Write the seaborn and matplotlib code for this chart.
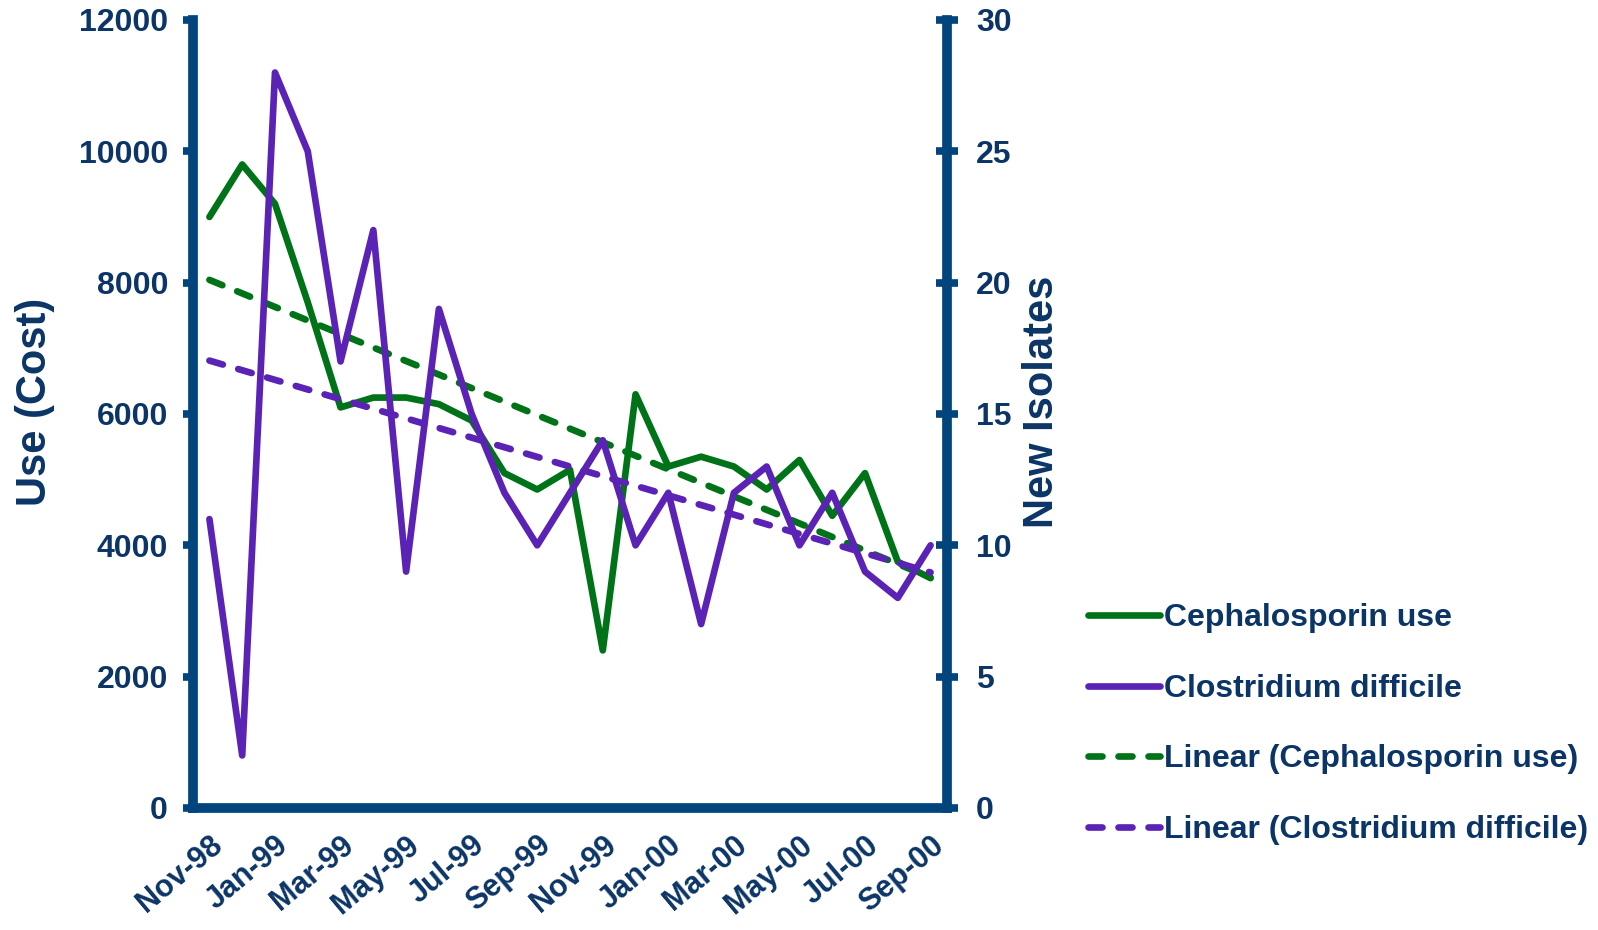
import numpy as np
import pandas as pd
import matplotlib
matplotlib.use('agg')
import matplotlib.pyplot as plt
from matplotlib.lines import Line2D
import seaborn as sns

# monthly data, Nov-98 .. Sep-00
months = ["Nov-98", "Dec-98", "Jan-99", "Feb-99", "Mar-99", "Apr-99", "May-99", "Jun-99",
          "Jul-99", "Aug-99", "Sep-99", "Oct-99", "Nov-99", "Dec-99", "Jan-00", "Feb-00",
          "Mar-00", "Apr-00", "May-00", "Jun-00", "Jul-00", "Aug-00", "Sep-00"]
ceph_use = [9000, 9800, 9200, 7700, 6100, 6250, 6250, 6150, 5900, 5100, 4850, 5150,
            2400, 6300, 5200, 5350, 5200, 4850, 5300, 4450, 5100, 3750, 3500]
c_diff = [11, 2, 28, 25, 17, 22, 9, 19, 15, 12, 10, 12, 14, 10, 12, 7, 12, 13, 10, 12, 9, 8, 10]

GREEN = "#007318"
PURPLE = "#5B23B5"
NAVY = "#02457C"
TEXT = "#0B3566"

sns.set_style("white")
plt.rcParams['font.family'] = ['Liberation Sans', 'DejaVu Sans']
plt.rcParams['font.weight'] = 'bold'

df = pd.DataFrame({'idx': np.arange(len(months)), 'month': months,
                   'use': ceph_use, 'cdiff': c_diff})

fig, ax = plt.subplots(figsize=(15.98, 9.30), dpi=100)
fig.subplots_adjust(left=0.1208, right=0.5926, bottom=0.1312, top=0.9785)
ax2 = ax.twinx()

lw = 4.8
dash = (0, (2.1, 2.4))

sns.lineplot(data=df, x='idx', y='use', ax=ax, color=GREEN, lw=lw)
sns.regplot(data=df, x='idx', y='use', ax=ax, scatter=False, ci=None, truncate=True,
            line_kws=dict(color=GREEN, lw=lw, ls=dash, dash_capstyle='round'))
sns.lineplot(data=df, x='idx', y='cdiff', ax=ax2, color=PURPLE, lw=lw)
sns.regplot(data=df, x='idx', y='cdiff', ax=ax2, scatter=False, ci=None, truncate=True,
            line_kws=dict(color=PURPLE, lw=lw, ls=dash, dash_capstyle='round'))

# x axis: marks between categories, labels on every other month
ax.set_xlim(-0.5, len(months) - 0.5)
ax.set_xticks(np.arange(-0.5, len(months) - 1, 2))
ax.set_xticklabels([])
ax.set_xticks(np.arange(0, len(months), 2), minor=True)
ax.set_xticklabels(months[::2], minor=True, rotation=40, ha='right', va='top',
                   rotation_mode='anchor', fontsize=22, fontweight='bold', color=TEXT)
ax.tick_params(axis='x', which='major', direction='out', length=10, width=5.5, color=NAVY)
ax.tick_params(axis='x', which='minor', length=0, pad=16)
ax.set_xlabel("")

ax.set_ylim(0, 12000)
ax.set_yticks(np.arange(0, 12001, 2000))
ax.tick_params(axis='y', direction='out', length=7, width=5.5, color=NAVY, pad=11,
               labelsize=23, labelcolor=TEXT)
ax2.set_ylim(0, 30)
ax2.set_yticks(np.arange(0, 31, 5))
ax2.tick_params(axis='y', direction='inout', length=16, width=5.5, color=NAVY, pad=13,
                labelsize=23, labelcolor=TEXT)
for t in ax.get_yticklabels() + ax2.get_yticklabels():
    t.set_fontweight('bold')

ax.set_ylabel("Use (Cost)", fontsize=30, fontweight='bold', color=TEXT, va='center')
ax.yaxis.set_label_coords(-0.2095, 0.515)
ax2.set_ylabel("New Isolates", fontsize=30, fontweight='bold', color=TEXT, va='center')
ax2.yaxis.set_label_coords(1.126, 0.515)

for s in ['top', 'right']:
    ax.spines[s].set_visible(False)
for s in ['top', 'left', 'bottom']:
    ax2.spines[s].set_visible(False)
ax.spines['left'].set_linewidth(7)
ax.spines['bottom'].set_linewidth(7)
ax2.spines['right'].set_linewidth(7)
for sp in [ax.spines['left'], ax.spines['bottom'], ax2.spines['right']]:
    sp.set_color(NAVY)
ax.grid(False)
ax2.grid(False)

handles = [Line2D([], [], color=GREEN, lw=lw, solid_capstyle='round'),
           Line2D([], [], color=PURPLE, lw=lw, solid_capstyle='round'),
           Line2D([], [], color=GREEN, lw=lw, ls=dash, dash_capstyle='round'),
           Line2D([], [], color=PURPLE, lw=lw, ls=dash, dash_capstyle='round')]
labels = ["Cephalosporin use", "Clostridium difficile",
          "Linear (Cephalosporin use)", "Linear (Clostridium difficile)"]
fig.legend(handles, labels, loc='center left', bbox_to_anchor=(1088 / 1598, 1 - 724 / 930),
           bbox_transform=fig.transFigure, frameon=False, borderpad=0, borderaxespad=0,
           handlelength=2.25, handletextpad=0.12, labelspacing=1.27,
           prop={'size': 23, 'weight': 'bold'}, labelcolor=TEXT)

plt.savefig("out.png", dpi=100)
